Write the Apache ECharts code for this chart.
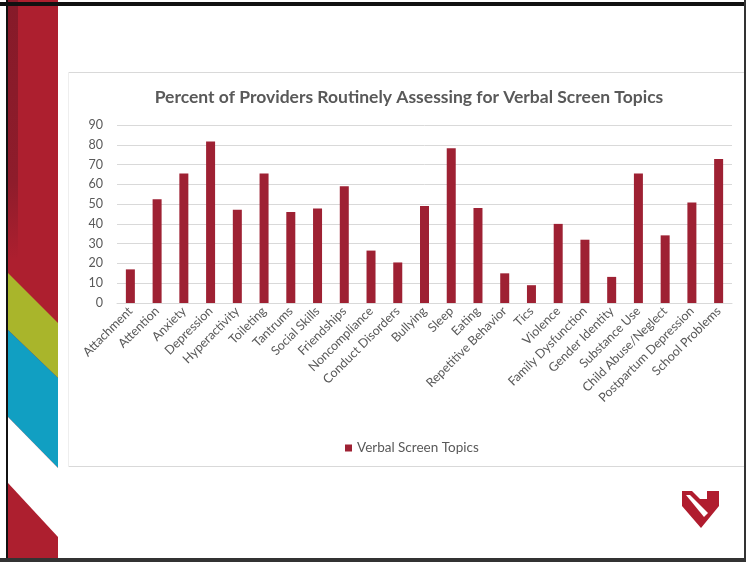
<!DOCTYPE html>
<html>
<head>
<meta charset="utf-8">
<script src="https://cdn.jsdelivr.net/npm/echarts@6/dist/echarts.min.js"></script>
<style>
html,body{margin:0;padding:0;background:#fff;}
#chart{width:746px;height:562px;}
</style>
</head>
<body>
<div id="chart"></div>
<script>
var categories = ["Attachment","Attention","Anxiety","Depression","Hyperactivity","Toileting","Tantrums","Social Skills","Friendships","Noncompliance","Conduct Disorders","Bullying","Sleep","Eating","Repetitive Behavior","Tics","Violence","Family Dysfunction","Gender Identity","Substance Use","Child Abuse/Neglect","Postpartum Depression","School Problems"];
var values = [17, 52.5, 65.5, 81.7, 47.2, 65.5, 46, 47.8, 59, 26.5, 20.5, 49, 78.2, 48, 15, 9, 40, 32, 13.2, 65.5, 34.2, 50.8, 72.8];
var seriesName = "Verbal Screen Topics";
var titleText = "Percent of Providers Routinely Assessing for Verbal Screen Topics";
var yTicks = {min: 0, max: 90, interval: 10};

var chart = echarts.init(document.getElementById('chart'), null, {renderer: 'canvas'});
var FONT = 'Lato, "Open Sans", sans-serif';
var RED = '#ad1f2f';

var deco = [
  // slide frame
  {type:'rect', shape:{x:0,y:0,width:746,height:562}, style:{fill:'#fff'}, z:-10, silent:true},
  {type:'rect', shape:{x:8,y:0,width:50,height:562}, style:{fill:RED}, z:-9, silent:true},
  {type:'rect', shape:{x:8,y:0,width:10,height:260}, style:{fill:{type:'linear',x:0,y:0,x2:0,y2:1,colorStops:[{offset:0,color:'#861a29'},{offset:0.7,color:'#8e1c2b'},{offset:1,color:RED}]}}, z:-9, silent:true},
  {type:'polygon', shape:{points:[[8,273],[58,323],[58,378],[8,330]]}, style:{fill:'#a9b52b'}, z:-8, silent:true},
  {type:'polygon', shape:{points:[[8,330],[58,378],[58,468],[8,417]]}, style:{fill:'#119fc2'}, z:-8, silent:true},
  {type:'polygon', shape:{points:[[8,417],[58,468],[58,537],[8,483]]}, style:{fill:'#ffffff'}, z:-8, silent:true},
  // black borders
  {type:'rect', shape:{x:0,y:2,width:746,height:4}, style:{fill:'#111'}, z:-7, silent:true},
  {type:'rect', shape:{x:6,y:0,width:2,height:562}, style:{fill:'#111'}, z:-7, silent:true},
  {type:'rect', shape:{x:0,y:558,width:746,height:4}, style:{fill:'#333'}, z:-7, silent:true},
  {type:'rect', shape:{x:744,y:0,width:2,height:562}, style:{fill:'#333'}, z:-7, silent:true},
  // chart box
  {type:'line', shape:{x1:68,y1:72.5,x2:744,y2:72.5}, style:{stroke:'#d9d9d9',lineWidth:1}, z:-6, silent:true},
  {type:'line', shape:{x1:68,y1:466.5,x2:744,y2:466.5}, style:{stroke:'#d9d9d9',lineWidth:1}, z:-6, silent:true},
  {type:'line', shape:{x1:68.5,y1:72,x2:68.5,y2:467}, style:{stroke:'#eeeeee',lineWidth:1}, z:-6, silent:true},
  // logo
  {type:'polygon', shape:{points:[[682,491],[692,491],[700,499],[707,499],[707,491],[719,491],[719,506],[701,528],[682,506]]}, style:{fill:'#b01c2e'}, z:-5, silent:true},
  {type:'polygon', shape:{points:[[686,495],[690,495],[708,513],[704,517]]}, style:{fill:'#ffffff'}, z:-4, silent:true}
];

var option = {
  animation: false,
  backgroundColor: '#fff',
  textStyle: {fontFamily: FONT},
  title: {
    text: titleText,
    left: 404,
    top: 83,
    textAlign: 'center',
    textStyle: {fontFamily: FONT, fontSize: 17.5, fontWeight: 'bold', color: '#595959'}
  },
  legend: {
    data: [seriesName],
    left: 340,
    top: 436,
    icon: 'rect',
    itemWidth: 7,
    itemHeight: 7,
    itemGap: 6,
    textStyle: {fontFamily: FONT, fontSize: 13.5, color: '#595959'}
  },
  grid: {left: 117, right: 14, top: 125, bottom: 259, containLabel: false},
  xAxis: {
    type: 'category',
    data: categories,
    axisLine: {lineStyle: {color: '#d9d9d9'}},
    axisTick: {show: false},
    axisLabel: {rotate: 45, interval: 0, margin: 6, fontFamily: FONT, fontSize: 12.5, color: '#595959'}
  },
  yAxis: {
    type: 'value',
    min: yTicks.min,
    max: yTicks.max,
    interval: yTicks.interval,
    axisLine: {show: false},
    axisTick: {show: false},
    splitLine: {lineStyle: {color: '#d9d9d9'}},
    axisLabel: {margin: 14, fontFamily: FONT, fontSize: 12.5, color: '#595959'}
  },
  series: [{
    name: seriesName,
    type: 'bar',
    data: values,
    barWidth: 9,
    itemStyle: {color: '#9e2133'}
  }],
  graphic: deco
};
chart.setOption(option);
</script>
</body>
</html>
